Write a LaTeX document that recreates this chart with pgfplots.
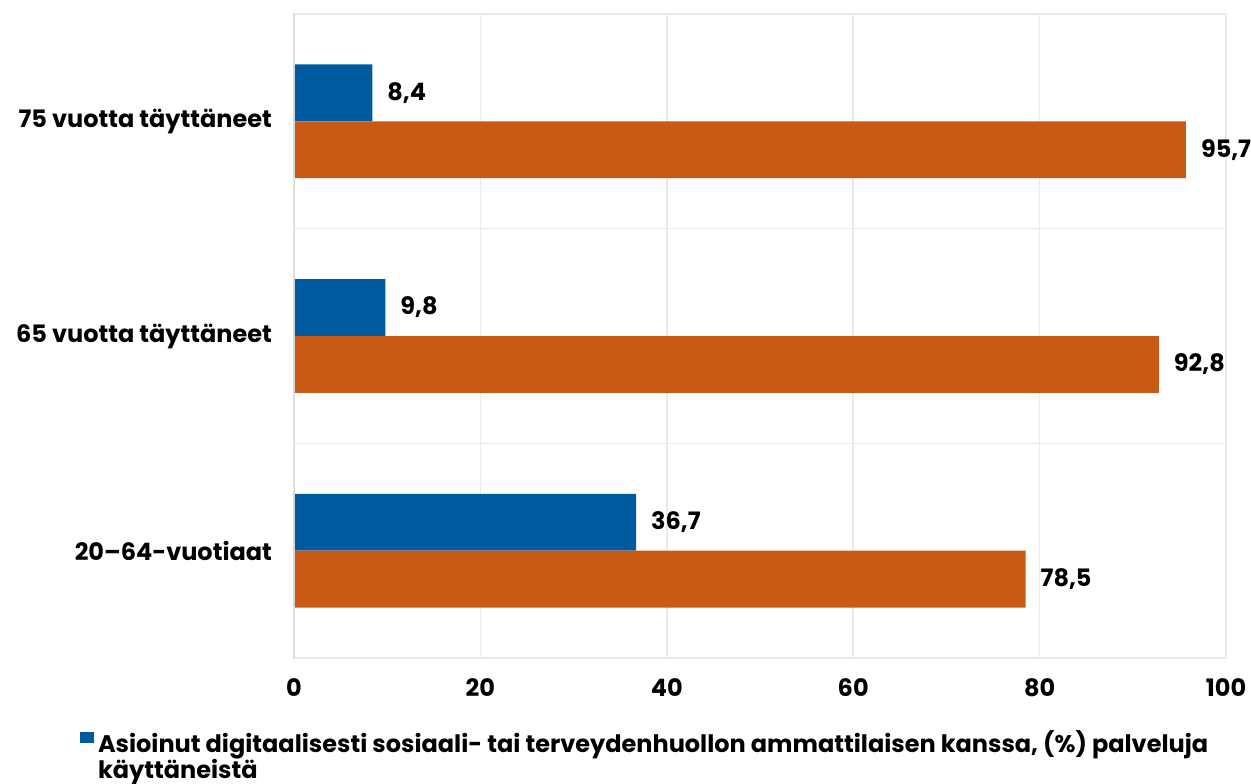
\documentclass[border=0pt]{standalone}
\usepackage{fontspec}
\setmainfont{Poppins}
\usepackage{pgfplots}
\pgfplotsset{compat=1.18}
\definecolor{cblue}{RGB}{0,90,160}
\definecolor{corange}{RGB}{200,90,22}
\definecolor{gridc}{RGB}{234,234,234}
\definecolor{axisc}{RGB}{214,214,214}
\newcommand{\lblfont}{\bfseries\fontsize{12}{13}\selectfont}
\begin{document}
\begin{tikzpicture}[x=1pt,y=1pt]
\path[use as bounding box] (-147,-62.5) rectangle (478.5,329);
\clip (-147,-62.5) rectangle (478.5,329);
\begin{axis}[
  at={(0,0)}, anchor=south west,
  width=466pt, height=322pt, scale only axis,
  xmin=0, xmax=100, ymin=-0.5, ymax=2.5,
  xbar, bar width=0.265,
  xtick={0,20,40,60,80,100},
  ytick={0,1,2},
  yticklabels={20–64-vuotiaat, 65 vuotta täyttäneet, 75 vuotta täyttäneet},
  minor ytick={0.5,1.5},
  xmajorgrids, yminorgrids,
  grid style={draw=gridc, line width=0.8pt},
  minor grid style={draw=gridc, line width=0.8pt},
  axis line style={draw=gridc, line width=0.8pt},
  major tick length=0pt, minor tick length=0pt,
  /pgf/number format/assume math mode=true,
  xticklabel style={font=\lblfont, yshift=-7pt},
  yticklabel style={font=\lblfont, xshift=-7.5pt},
  nodes near coords,
  nodes near coords style={font=\lblfont, anchor=west, xshift=4pt,
    /pgf/number format/.cd, fixed, fixed zerofill, precision=1, use comma, assume math mode=true},
  legend style={at={(-0.2296,-0.106)}, anchor=north west, draw=none, fill=none,
    inner sep=0pt, font=\lblfont},
  legend cell align=left,
  legend image code/.code={\fill[#1] (0pt,0pt) rectangle (6.8pt,5.8pt);},
]
\addplot[fill=cblue, draw=none, bar shift=0.1325] coordinates {(36.7,0) (9.8,1) (8.4,2)};
\addplot[fill=corange, draw=none, bar shift=-0.1325] coordinates {(78.5,0) (92.8,1) (95.7,2)};
\legend{{\parbox[t]{600pt}{\lblfont Asioinut digitaalisesti sosiaali- tai terveydenhuollon ammattilaisen kanssa, (\%) palveluja\\käyttäneistä}}}
\draw[axisc, line width=0.9pt] (axis cs:0,-0.5) -- (axis cs:0,2.5);
\end{axis}
\end{tikzpicture}
\end{document}
